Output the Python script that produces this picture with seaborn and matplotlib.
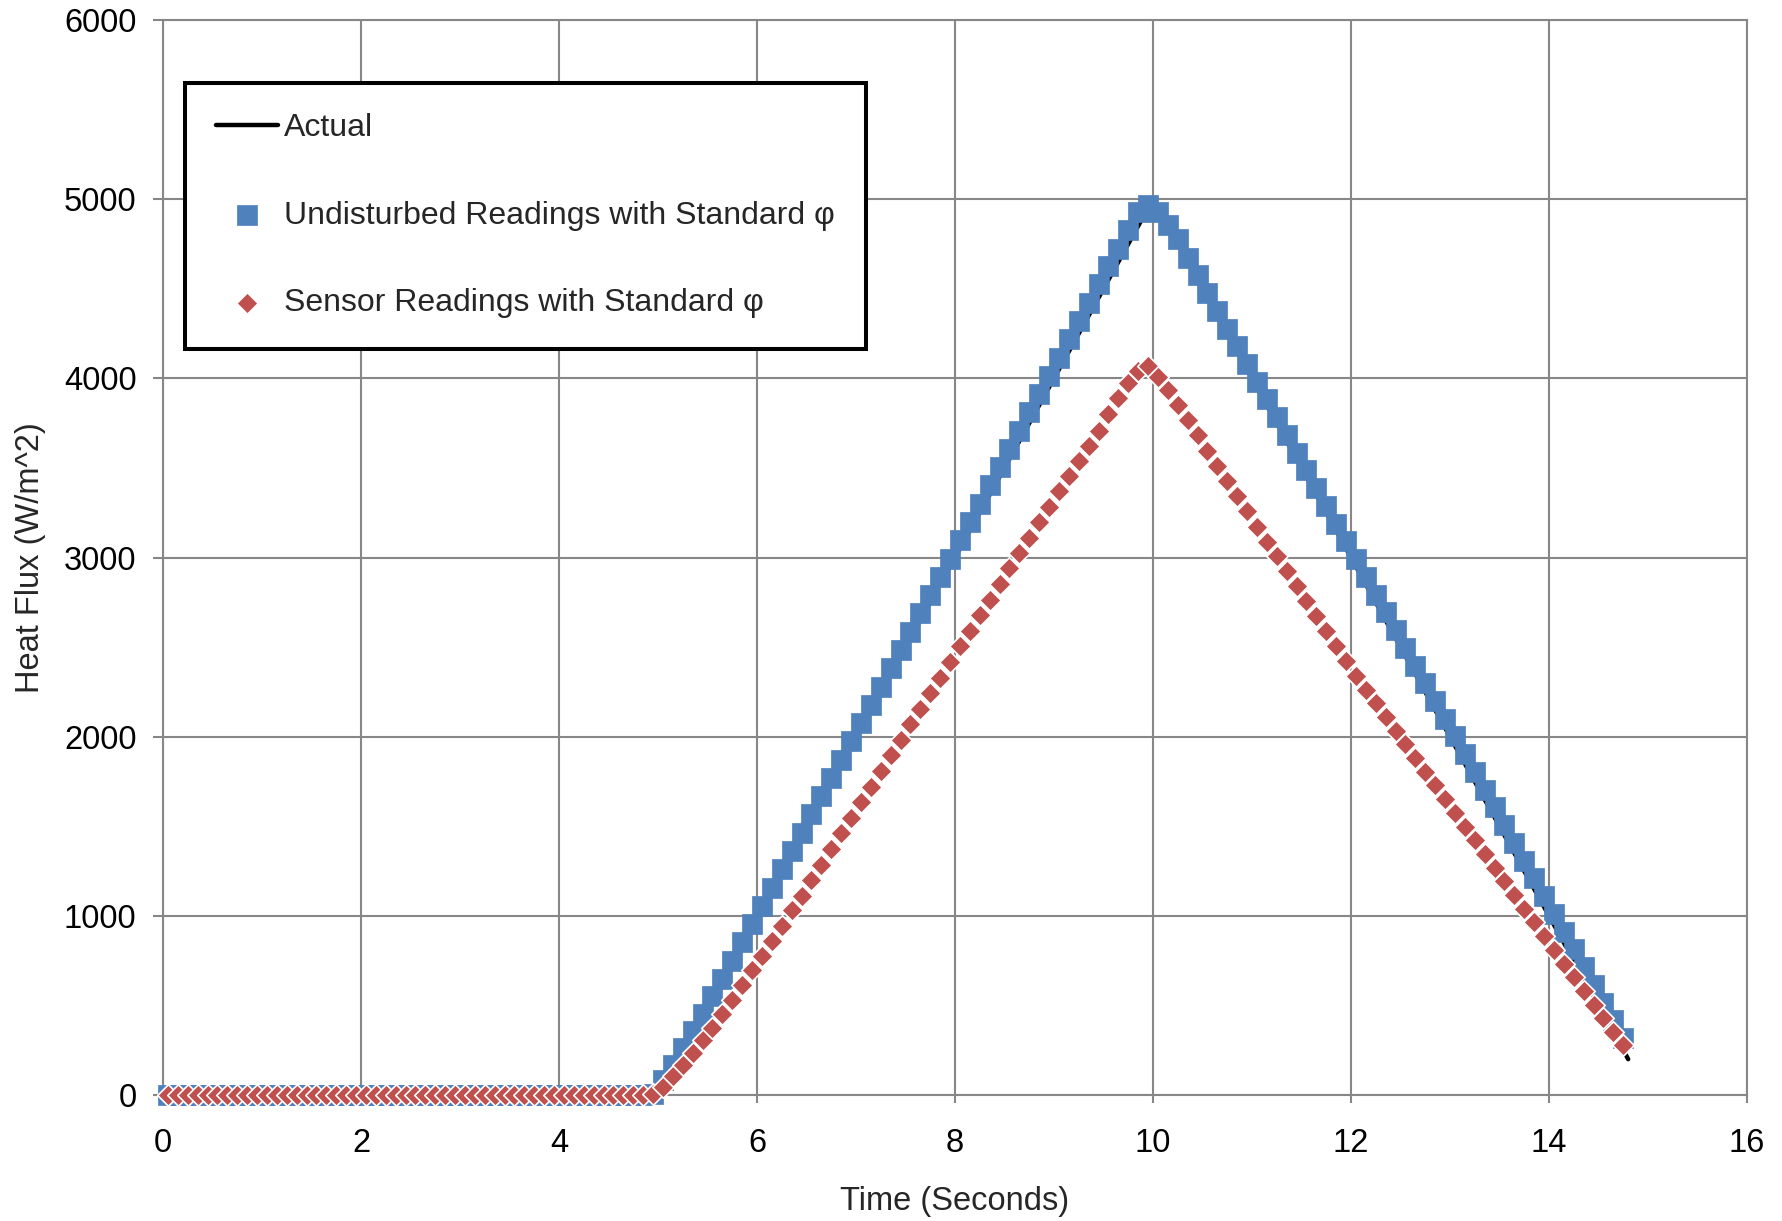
import numpy as np
import pandas as pd
import matplotlib
matplotlib.use('Agg')
import matplotlib.pyplot as plt
import seaborn as sns

# ---------------- data ----------------
time_s = [
    0.05, 0.15, 0.25, 0.35, 0.45, 0.55, 0.65, 0.75, 0.85, 0.95,
    1.05, 1.15, 1.25, 1.35, 1.45, 1.55, 1.65, 1.75, 1.85, 1.95,
    2.05, 2.15, 2.25, 2.35, 2.45, 2.55, 2.65, 2.75, 2.85, 2.95,
    3.05, 3.15, 3.25, 3.35, 3.45, 3.55, 3.65, 3.75, 3.85, 3.95,
    4.05, 4.15, 4.25, 4.35, 4.45, 4.55, 4.65, 4.75, 4.85, 4.95,
    5.05, 5.15, 5.25, 5.35, 5.45, 5.55, 5.65, 5.75, 5.85, 5.95,
    6.05, 6.15, 6.25, 6.35, 6.45, 6.55, 6.65, 6.75, 6.85, 6.95,
    7.05, 7.15, 7.25, 7.35, 7.45, 7.55, 7.65, 7.75, 7.85, 7.95,
    8.05, 8.15, 8.25, 8.35, 8.45, 8.55, 8.65, 8.75, 8.85, 8.95,
    9.05, 9.15, 9.25, 9.35, 9.45, 9.55, 9.65, 9.75, 9.85, 9.95,
    10.05, 10.15, 10.25, 10.35, 10.45, 10.55, 10.65, 10.75, 10.85, 10.95,
    11.05, 11.15, 11.25, 11.35, 11.45, 11.55, 11.65, 11.75, 11.85, 11.95,
    12.05, 12.15, 12.25, 12.35, 12.45, 12.55, 12.65, 12.75, 12.85, 12.95,
    13.05, 13.15, 13.25, 13.35, 13.45, 13.55, 13.65, 13.75, 13.85, 13.95,
    14.05, 14.15, 14.25, 14.35, 14.45, 14.55, 14.65, 14.75,
]

undisturbed = [
    0, 0, 0, 0, 0, 0, 0, 0, 0, 0,
    0, 0, 0, 0, 0, 0, 0, 0, 0, 0,
    0, 0, 0, 0, 0, 0, 0, 0, 0, 0,
    0, 0, 0, 0, 0, 0, 0, 0, 0, 0,
    0, 0, 0, 0, 0, 0, 0, 0, 0, 3,
    83, 165, 262, 356, 453, 551, 650, 749, 852, 954,
    1056, 1158, 1260, 1362, 1464, 1566, 1668, 1770, 1872, 1974,
    2076, 2178, 2280, 2382, 2484, 2586, 2688, 2790, 2892, 2994,
    3096, 3198, 3300, 3402, 3504, 3606, 3708, 3810, 3912, 4014,
    4116, 4218, 4320, 4422, 4524, 4626, 4724, 4827, 4927, 4970,
    4927, 4858, 4775, 4673, 4575, 4476, 4377, 4278, 4179, 4080,
    3981, 3882, 3783, 3684, 3585, 3486, 3387, 3288, 3189, 3090,
    2991, 2892, 2793, 2694, 2595, 2496, 2397, 2298, 2199, 2100,
    2001, 1902, 1803, 1704, 1605, 1506, 1407, 1308, 1209, 1110,
    1011, 912, 813, 714, 615, 516, 417, 318,
]

sensor = [
    0, 0, 0, 0, 0, 0, 0, 0, 0, 0,
    0, 0, 0, 0, 0, 0, 0, 0, 0, 0,
    0, 0, 0, 0, 0, 0, 0, 0, 0, 0,
    0, 0, 0, 0, 0, 0, 0, 0, 0, 0,
    0, 0, 0, 0, 0, 0, 0, 0, 0, 8,
    45, 108, 170, 236, 305, 376, 453, 530, 612, 695,
    778, 862, 946, 1030, 1113, 1199, 1286, 1373, 1460, 1547,
    1634, 1721, 1808, 1895, 1982, 2069, 2156, 2243, 2330, 2417,
    2504, 2591, 2678, 2765, 2852, 2939, 3025, 3111, 3197, 3283,
    3369, 3455, 3540, 3624, 3708, 3800, 3890, 3975, 4040, 4070,
    4008, 3933, 3851, 3767, 3682, 3597, 3512, 3427, 3342, 3257,
    3172, 3089, 3006, 2922, 2839, 2756, 2673, 2589, 2506, 2423,
    2340, 2263, 2187, 2110, 2034, 1957, 1881, 1804, 1728, 1651,
    1575, 1498, 1422, 1345, 1269, 1192, 1116, 1039, 963, 886,
    810, 733, 657, 580, 504, 427, 351, 280,
]

actual_time = [0.0, 5.0, 10.0, 14.8]
actual_flux = [0, 0, 5000, 200]

x_ticks = [0, 2, 4, 6, 8, 10, 12, 14, 16]
y_ticks = [0, 1000, 2000, 3000, 4000, 5000, 6000]

label_actual = "Actual"
label_undist = "Undisturbed Readings with Standard φ"
label_sensor = "Sensor Readings with Standard φ"

# ---------------- styling ----------------
sns.set_style('white')
plt.rcParams['font.family'] = ['Liberation Sans', 'DejaVu Sans']

W, H = 1783, 1221
fig = plt.figure(figsize=(W / 100, H / 100), dpi=100)
ax = fig.add_axes([163 / W, 1 - 1095 / H, 1584 / W, 1075 / H])

grid_gray = '#878787'
blue = '#4F81BD'
red = '#C0504D'
fs = 23.5

sns.lineplot(x=actual_time, y=actual_flux, ax=ax, color='black', linewidth=3.2,
             label=label_actual, zorder=3, solid_capstyle='round')
sns.scatterplot(x=time_s, y=undisturbed, ax=ax, marker='s', s=210, color=blue,
                edgecolor=blue, linewidth=0.5, label=label_undist, zorder=4,
                clip_on=False)
sns.scatterplot(x=time_s, y=sensor, ax=ax, marker='D', s=120, color=red,
                edgecolor='white', linewidth=1.2, label=label_sensor, zorder=5,
                clip_on=False)

ax.set_xlim(0, 16)
ax.set_ylim(0, 6000)
ax.set_xticks(x_ticks)
ax.set_yticks(y_ticks)
ax.grid(True, color=grid_gray, linewidth=1.5)
ax.set_axisbelow(True)
for sp in ax.spines.values():
    sp.set_color(grid_gray)
    sp.set_linewidth(1.5)
ax.tick_params(axis='both', direction='out', color=grid_gray, width=1.5,
               labelsize=fs, labelcolor='black', bottom=True, left=True)
ax.tick_params(axis='y', length=7, pad=12)
ax.tick_params(axis='x', length=6, pad=18)
ax.set_xlabel('Time (Seconds)', fontsize=fs, labelpad=19)
ax.set_ylabel('Heat Flux (W/m^2)', fontsize=fs, labelpad=13)

leg = ax.legend(loc='upper left', bbox_to_anchor=(22 / 1584, (1095 - 82.7) / 1075),
                prop={'family': ['Liberation Sans', 'DejaVu Sans'], 'size': 23},
                frameon=True, fancybox=False, edgecolor='black', framealpha=1,
                borderpad=0.96, labelspacing=1.8, handlelength=1.95,
                handletextpad=0.2, borderaxespad=0, markerscale=1.0)
leg.get_frame().set_linewidth(2.9)

fig.savefig('out.png', dpi=100)
